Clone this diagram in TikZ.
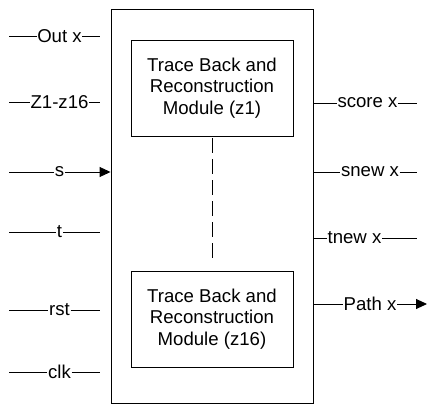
\documentclass[tikz,border=0pt]{standalone}
\usepackage{fontspec}
\setmainfont{Liberation Sans}
\usetikzlibrary{arrows.meta}
\begin{document}
\begin{tikzpicture}[x=1pt,y=-1pt,
  wire/.style={line width=0.9pt},
  sig/.style={inner xsep=0.5pt, inner ysep=0pt, font=\fontsize{18.6}{21.4}\selectfont},
  blk/.style={draw, line width=0.9pt, inner sep=0pt},
  module/.style={blk, minimum width=162pt, minimum height=96pt, align=center,
                 font=\fontsize{18.6}{21.4}\selectfont},
  tip/.style={-{Triangle[length=11pt,width=10pt]}}]
\useasboundingbox (0,0) rectangle (427,406);

% enclosing block
\node[blk, minimum width=202pt, minimum height=394pt] (top) at (212,206) {};

% the sixteen trace-back modules (first and last shown)
\node[module] (m1)  at (212,88)  {Trace Back and\\Reconstruction\\Module (z1)};
\node[module] (m16) at (212,319) {Trace Back and\\Reconstruction\\Module (z16)};
\draw[wire, dash pattern=on 15pt off 6pt, shorten <=2pt, shorten >=9pt] (m1.south) -- (m16.north);

% inputs on the left
\coordinate (a1) at (9,36);  \node[sig] (l1) at (59.5,36)  {Out x};  \coordinate (b1) at (100,36);
\coordinate (a2) at (9,102); \node[sig] (l2) at (59.5,102) {Z1-z16}; \coordinate (b2) at (100,102);
\coordinate (a3) at (9,172); \node[sig] (l3) at (59.5,172) {s};
\coordinate (a4) at (9,232); \node[sig] (l4) at (59.5,232) {t};      \coordinate (b4) at (100,232);
\coordinate (a5) at (9,310); \node[sig] (l5) at (59.5,310) {rst};    \coordinate (b5) at (100,310);
\coordinate (a6) at (9,372); \node[sig] (l6) at (59.5,372) {clk};    \coordinate (b6) at (100,372);

\draw[wire] (a1) -- (l1); \draw[wire] (l1) -- (b1);
\draw[wire] (a2) -- (l2); \draw[wire] (l2) -- (b2);
\draw[wire] (a3) -- (l3); \draw[wire, tip] (l3) -- (l3 -| top.west);
\draw[wire] (a4) -- (l4); \draw[wire] (l4) -- (b4);
\draw[wire] (a5) -- (l5); \draw[wire] (l5) -- (b5);
\draw[wire] (a6) -- (l6); \draw[wire] (l6) -- (b6);

% outputs on the right
\node[sig] (r1) at (367.5,103) {score x}; \coordinate (e1) at (417,103);
\node[sig] (r2) at (370,172)   {snew x};  \coordinate (e2) at (417,172);
\node[sig] (r3) at (354.5,238) {tnew x};  \coordinate (e3) at (417,238);
\node[sig] (r4) at (370,304)   {Path x};  \coordinate (e4) at (427,304);

\draw[wire] (r1 -| top.east) -- (r1); \draw[wire] (r1) -- (e1);
\draw[wire] (r2 -| top.east) -- (r2); \draw[wire] (r2) -- (e2);
\draw[wire] (r3 -| top.east) -- (r3); \draw[wire] (r3) -- (e3);
\draw[wire] (r4 -| top.east) -- (r4); \draw[wire, tip] (r4) -- (e4);
\end{tikzpicture}
\end{document}
